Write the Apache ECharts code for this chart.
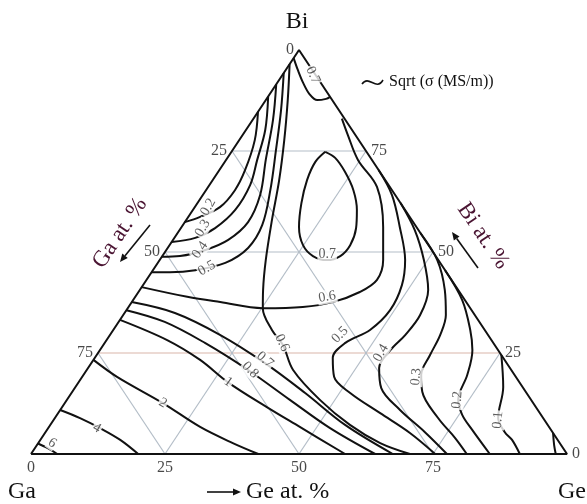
<!DOCTYPE html>
<html lang="en">
<head>
  <meta charset="utf-8">
  <script src="https://cdn.jsdelivr.net/npm/echarts@6/dist/echarts.min.js"></script>
</head>
<body style="margin: 0">
  <div id="container" style="width: 587px; height: 504px"></div>
  <script type="text/javascript">
    // grid ticks (at.%) and tick labels
    var ticks = [25, 50, 75];
    var tickVals = [0, 25, 50, 75];

    // contour lines, every point is [Ge at.%, Bi at.%]
    var c6 = [[0, 2.6], [2.5, 1.4], [4.9, 0]];
    var c4 = [[0, 10.9], [4.7, 8.9], [9.7, 6.4], [14.9, 3.5], [20.0, 0]];
    var c2 = [[0, 23.3], [6.5, 19.1], [18.3, 12.6], [28.2, 6.7], [36.3, 2.7], [42.4, 0]];
    var c1 = [[0, 33.2], [11.3, 28.2], [19.9, 23.3], [27.8, 17.8], [38.2, 11.6], [46.8, 6.7], [58.6, 0]];
    var c08 = [[0, 35.6], [8.6, 32.7], [18.7, 27.5], [30.1, 20.8], [41.6, 13.4], [52.6, 6.4], [64.2, 0]];
    var c07 = [[0, 37.6], [9.4, 34.9], [20.5, 29.5], [32.4, 22.5], [43.6, 15.1], [55.0, 7.2], [67.5, 0]];
    var c06a = [[0, 41.3], [9.7, 38.9], [16.5, 37.6], [25.2, 36.1], [32.5, 36.4], [37.5, 37.6], [41.3, 40.1], [43.0, 43.1],
                [41.7, 48.0], [37.6, 56.2], [31.5, 66.1], [24.6, 72.8], [19.6, 79.0], [16.5, 83.0]];
    var c06b = [[0, 96.5], [4.1, 87.6], [8.4, 77.7], [12.4, 67.8], [16.0, 57.9], [19.8, 48.0], [23.0, 40.6], [25.2, 36.1],
                [29.6, 30.7], [33.5, 27.0], [38.5, 20.8], [47.2, 13.4], [55.9, 7.2], [63.8, 2.7], [70.7, 0]];
    var c05left = [[0, 94.3], [4.1, 85.1], [8.1, 75.2], [12.0, 65.3], [14.8, 56.7], [15.0, 51.0], [12.6, 47.3], [7.9, 45.5], [3.4, 45.0], [0, 45.0]];
    var c04left = [[0, 91.5], [3.8, 82.7], [7.4, 72.8], [10.7, 64.1], [11.8, 57.4], [10.3, 53.0], [7.3, 50.5], [3.3, 49.0], [0, 48.8]];
    var c03left = [[0, 88.5], [3.6, 80.2], [5.8, 72.8], [7.6, 66.6], [7.9, 60.4], [6.4, 55.9], [3.9, 53.5], [0, 52.5]];
    var c02left = [[0, 84.7], [2.9, 77.7], [4.8, 70.3], [5.4, 65.3], [4.7, 61.1], [2.2, 58.7], [0, 57.4]];
    var c07top = [[0, 98.0], [2.3, 95.0], [4.9, 91.8], [7.4, 89.1], [9.6, 87.6], [11.1, 87.9], [11.6, 88.4]];
    var c07loop = [[17.5, 74.8], [16.9, 72.3], [17.6, 67.8], [19.4, 62.1], [21.9, 56.2], [24.9, 51.7], [28.1, 49.0], [31.2, 48.0],
                   [33.2, 49.0], [33.7, 51.7], [32.7, 55.9], [30.6, 60.4], [27.5, 65.3], [23.7, 69.8], [20.1, 73.3], [17.5, 74.8]];
    var c05right = [[29.7, 70.3], [35.3, 64.1], [40.7, 56.2], [45.8, 48.0], [48.3, 41.8], [49.2, 35.6], [47.9, 30.7], [44.9, 27.5],
                    [44.4, 23.8], [47.0, 19.1], [52.0, 15.1], [60.1, 10.1], [68.1, 5.2], [75.4, 0]];
    var c04right = [[37.9, 62.1], [43.9, 55.4], [49.3, 48.0], [53.8, 40.6], [55.4, 34.4], [55.1, 29.5], [54.2, 25.7], [54.3, 21.3],
                    [57.2, 16.3], [63.4, 10.9], [70.8, 5.4], [77.6, 0]];
    var c03right = [[45.3, 54.7], [51.8, 48.0], [56.9, 40.6], [60.2, 34.4], [61.6, 29.5], [62.2, 24.5], [63.0, 19.6], [65.3, 15.4],
                    [71.5, 8.9], [77.1, 4.0], [81.3, 0]];
    var c02right = [[54.5, 45.5], [61.4, 38.1], [66.6, 30.7], [69.5, 25.7], [71.6, 19.6], [73.0, 13.4], [75.6, 9.7], [79.4, 5.9], [85.6, 0]];
    var c01right = [[75.5, 24.5], [79.8, 16.6], [82.7, 8.9], [85.7, 5.4], [88.0, 3.5], [91.2, 0]];
    var cGeCorner = [[94.8, 5.2], [96.5, 2.2], [97.9, 0]];

    // contour labels: text, position [Ge, Bi], rotation (deg)
    var lblText = ['0.7', '0.2', '0.3', '0.4', '0.5', '0.7', '0.6', '0.6', '0.5', '0.4', '0.3', '0.2', '0.1', '0.7', '0.8', '1', '2', '4', '6'];
    var lblPos = [[5.7, 93.8], [2.5, 61.1], [4.1, 55.9], [6.3, 50.5], [9.8, 46.0], [30.6, 49.3], [35.8, 38.9], [33.1, 27.5],
                  [42.9, 29.5], [52.8, 25.0], [62.3, 19.1], [72.8, 13.4], [82.9, 8.4], [32.0, 23.3], [30.5, 20.8], [27.9, 17.8],
                  [18.3, 12.6], [9.1, 6.4], [2.6, 2.7]];
    var lblRot = [-65, 60, 60, 55, 30, 0, 10, -65, 45, 60, 85, 85, 85, -40, -45, -35, -30, -30, -35];

    var contours = [c6, c4, c2, c1, c08, c07, c06a, c06b, c05left, c04left, c03left, c02left, c07top, c07loop,
                    c05right, c04right, c03right, c02right, c01right, cGeCorner];

    var serif = '"Liberation Serif", "DejaVu Serif", serif';

    // ternary [Ge, Bi] -> cartesian axis values
    function tern(p) { return [p[0] + p[1] / 2, p[1]]; }

    function plainLine(pts, color, width, smooth) {
      return {
        type: 'line', data: pts.map(tern), symbol: 'none', smooth: smooth || false,
        lineStyle: { color: color, width: width }, silent: true, clip: false, z: 2
      };
    }

    var series = [];
    ticks.forEach(function (t) {
      series.push(plainLine([[0, t], [100 - t, t]], t === 25 ? '#d9b6aa' : '#b3bdc7', 1.2));
      series.push(plainLine([[t, 0], [t, 100 - t]], '#b3bdc7', 1.2));
      series.push(plainLine([[100 - t, 0], [0, 100 - t]], '#b3bdc7', 1.2));
    });
    series.push(plainLine([[0, 0], [100, 0], [0, 100], [0, 0]], '#111', 2));
    contours.forEach(function (c) {
      var s = plainLine(c, '#111', 2, 0.35);
      s.z = 3;
      series.push(s);
    });

    // contour value labels
    series.push({
      type: 'scatter', symbolSize: 0, silent: true, z: 5,
      data: lblText.map(function (t, i) {
        return { name: t, value: tern(lblPos[i]), label: { rotate: lblRot[i] } };
      }),
      label: {
        show: true, position: 'inside', formatter: '{b}', color: '#333',
        fontFamily: serif, fontSize: 14, backgroundColor: '#fff', padding: [0, 1]
      }
    });

    // tick labels on the three sides
    var tickData = [];
    tickVals.forEach(function (t) {
      tickData.push({ name: String(t), value: tern([t, 0]), label: { position: 'bottom', distance: 6 } });
      tickData.push({ name: String(t), value: tern([0, 100 - t]), label: { position: 'left', distance: 5 } });
      tickData.push({ name: String(t), value: tern([100 - t, t]), label: { position: 'right', distance: 5 } });
    });
    series.push({
      type: 'scatter', symbolSize: 0, silent: true, z: 5, data: tickData,
      label: { show: true, formatter: '{b}', color: '#1a1a1a', fontFamily: serif, fontSize: 16 }
    });

    function arrow(x1, y1, x2, y2, color) {
      var a = Math.atan2(y2 - y1, x2 - x1), h = 8, w = 3.5;
      var bx = x2 - h * Math.cos(a), by = y2 - h * Math.sin(a);
      return {
        type: 'group', children: [
          { type: 'line', shape: { x1: x1, y1: y1, x2: bx, y2: by }, style: { stroke: color, lineWidth: 1.6 } },
          { type: 'polygon', shape: { points: [[x2, y2], [bx + w * Math.sin(a), by - w * Math.cos(a)], [bx - w * Math.sin(a), by + w * Math.cos(a)]] },
            style: { fill: color } }
        ]
      };
    }

    function txt(x, y, s, size, color, rot, align) {
      return {
        type: 'text', x: x, y: y, rotation: (rot || 0) * Math.PI / 180,
        style: { text: s, font: size + 'px ' + serif, fill: color, textAlign: align || 'center', textVerticalAlign: 'middle' }
      };
    }

    var myChart = echarts.init(document.getElementById('container'), null, { renderer: 'canvas' });
    myChart.setOption({
      animation: false,
      backgroundColor: '#fff',
      grid: { left: 31, right: 20, top: 50, bottom: 50 },
      xAxis: { type: 'value', min: 0, max: 100, show: false },
      yAxis: { type: 'value', min: 0, max: 100, show: false },
      series: series,
      graphic: [
        txt(297, 22, 'Bi', 24, '#111'),
        txt(22, 492, 'Ga', 24, '#111'),
        txt(572, 492, 'Ge', 24, '#111'),
        txt(120, 233, 'Ga at. %', 23, '#4a1432', 56),
        txt(483, 236, 'Bi at. %', 23, '#4a1432', -56),
        txt(246, 492, 'Ge at. %', 24, '#111', 0, 'left'),
        arrow(150, 225, 120, 262, '#111'),
        arrow(478, 268, 452, 232, '#111'),
        arrow(207, 492, 241, 492, '#111'),
        { type: 'bezierCurve', shape: { x1: 362, y1: 84, cpx1: 369, cpy1: 74, cpx2: 376, cpy2: 92, x2: 383, y2: 80 },
          style: { stroke: '#111', lineWidth: 1.6, fill: null } },
        txt(389, 82, 'Sqrt (σ (MS/m))', 16, '#111', 0, 'left')
      ]
    });
  </script>
</body>
</html>
